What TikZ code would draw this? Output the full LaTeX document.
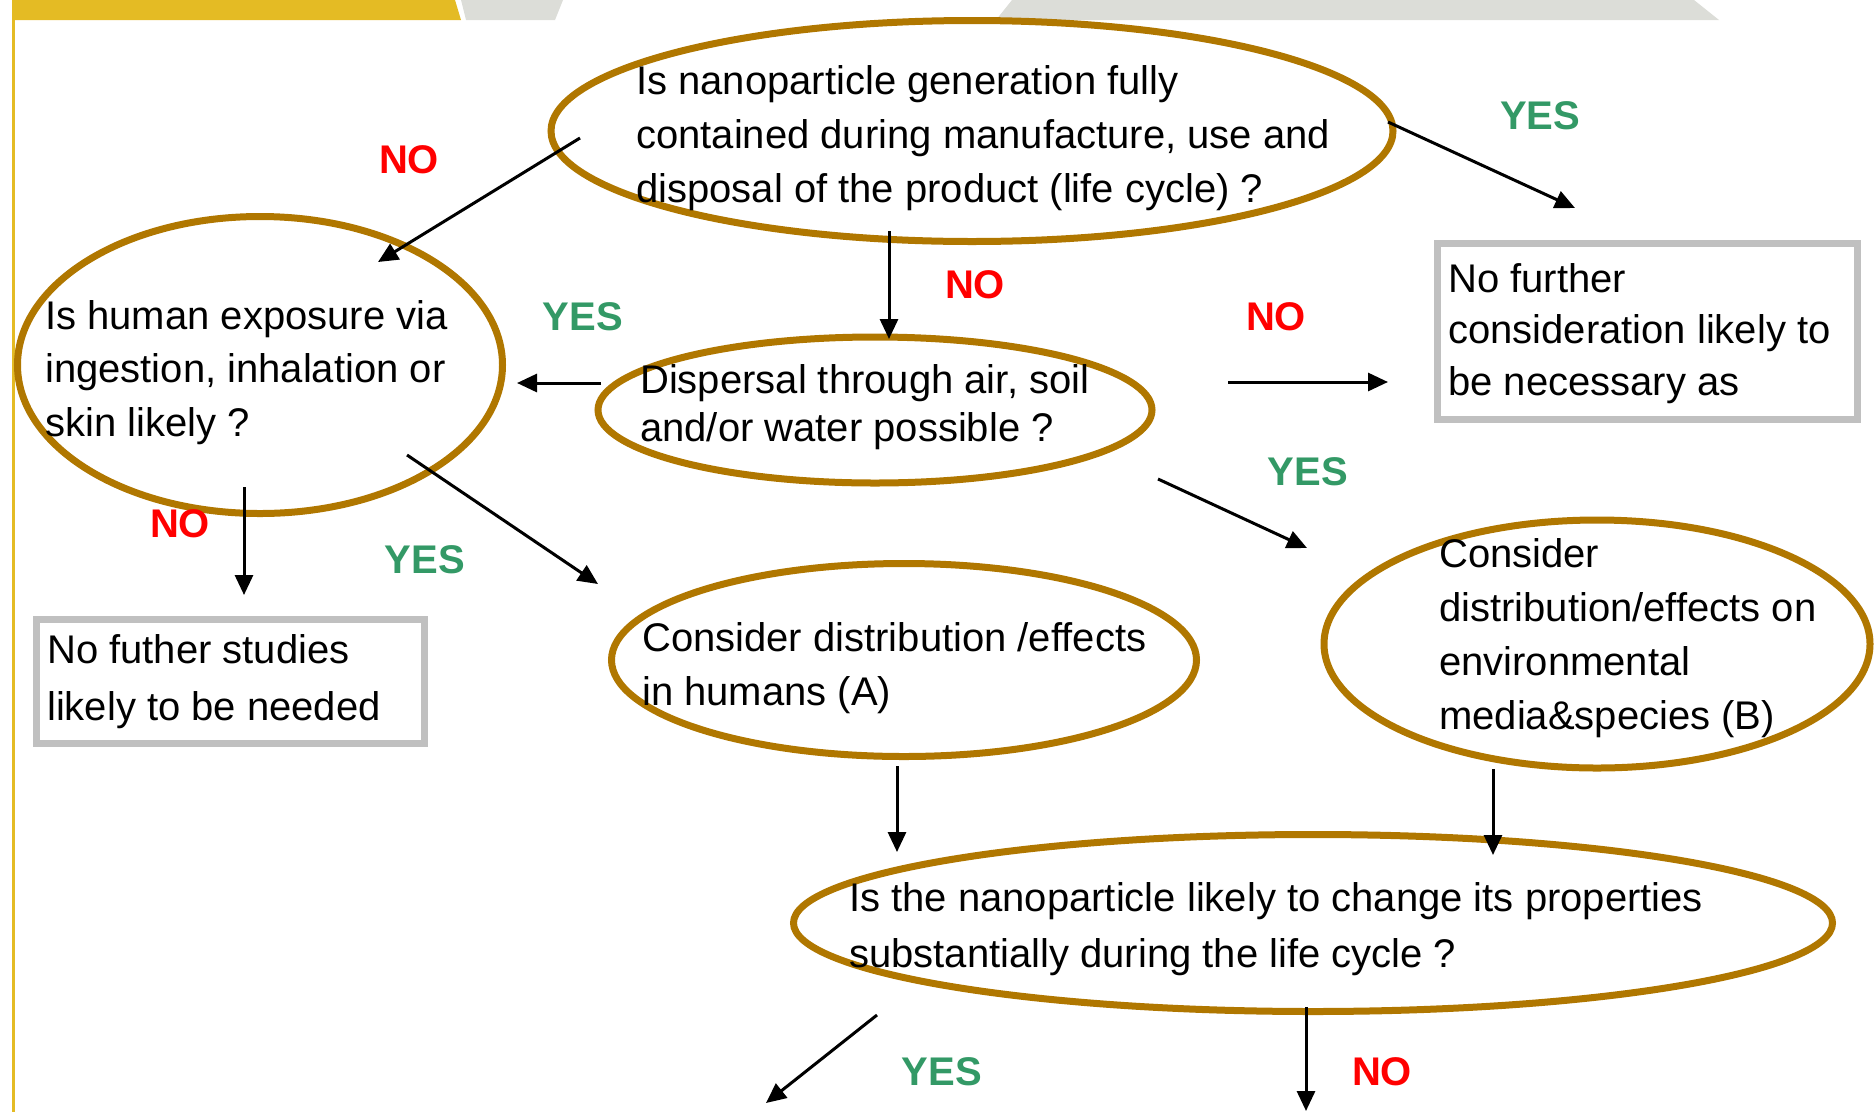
\documentclass[tikz,border=0pt]{standalone}
\usepackage{fontspec}
\setmainfont{Liberation Sans}
\usetikzlibrary{arrows.meta,shapes.geometric}
\definecolor{yellowbar}{HTML}{E4BB24}
\definecolor{greybar}{HTML}{DCDDD8}
\definecolor{ellcol}{HTML}{B07700}
\definecolor{boxcol}{HTML}{C0C0C0}
\definecolor{yescol}{HTML}{339966}
\definecolor{nocol}{HTML}{FF0000}
\tikzset{
  ell/.style={draw=ellcol, line width=7pt, ellipse, inner sep=0pt},
  greybox/.style={draw=boxcol, line width=7pt, rectangle, inner sep=0pt},
  txt/.style={inner sep=0pt, anchor=base west, align=left, font=\fontsize{40}{54}\selectfont},
  yeslbl/.style={text=yescol, inner sep=0pt, font=\fontsize{40}{40}\selectfont\bfseries},
  nolbl/.style={text=nocol, inner sep=0pt, font=\fontsize{40}{40}\selectfont\bfseries},
  arr/.style={line width=3pt, -{Triangle[length=20pt,width=18pt]}}
}
\begin{document}
\begin{tikzpicture}[x=1pt,y=-1pt]
\useasboundingbox (0,0) rectangle (1876,1112);
% frame decoration
\fill[yellowbar] (12,0) -- (455,0) -- (461,20) -- (12,20) -- cycle;
\fill[yellowbar] (12,20) rectangle (15,1112);
\fill[greybar] (461,0) -- (563,0) -- (555,20) -- (466,20) -- cycle;
\fill[greybar] (1012,0) -- (1694,0) -- (1719,20) -- (996,20) -- cycle;

% ellipses
\node[ell, minimum width=842pt, minimum height=221pt] (e1) at (972,131) {};
\node[ell, minimum width=485pt, minimum height=297pt] (e2) at (260,365) {};
\node[ell, minimum width=554pt, minimum height=146pt] (e3) at (875,410) {};
\node[ell, minimum width=585pt, minimum height=193pt] (e4) at (904,660) {};
\node[ell, minimum width=546pt, minimum height=248pt] (e5) at (1597,644) {};
\node[ell, minimum width=1039pt, minimum height=177pt] (e6) at (1313,923) {};
% boxes
\node[greybox, minimum width=420pt, minimum height=176pt] (b1) at (1647.5,331.5) {};
\node[greybox, minimum width=388pt, minimum height=124pt] (b2) at (230.5,681.5) {};

% texts (anchored at the baseline of the last line)
\node[txt] (t1) at (636,202) {Is nanoparticle generation fully\\contained during manufacture, use and\\disposal of the product (life cycle) ?};
\node[txt, font=\fontsize{40}{51.5}\selectfont] (tb1) at (1448,395) {No further\\consideration likely to\\be necessary as};
\node[txt, font=\fontsize{40}{53.5}\selectfont] (t2) at (45,436) {Is human exposure via\\ingestion, inhalation or\\skin likely ?};
\node[txt, font=\fontsize{40}{48}\selectfont] (t3) at (640,441) {Dispersal through air, soil\\and/or water possible ?};
\node[txt] (t4) at (642,705) {Consider distribution /effects\\in humans (A)};
\node[txt] (t5) at (1439,729) {Consider\\distribution/effects on\\environmental\\media\&species (B)};
\node[txt, font=\fontsize{40}{56}\selectfont] (t6) at (849,967) {Is the nanoparticle likely to change its properties\\substantially during the life cycle ?};
\node[txt, font=\fontsize{40}{57}\selectfont] (tb2) at (47,720) {No futher studies\\likely to be needed};

% connector end points
\coordinate (a1s) at (580,138);  \coordinate (a1e) at (378,262);
\coordinate (a2s) at (1388,122); \coordinate (a2e) at (1575,208);
\coordinate (a3s) at (889,231);  \coordinate (a3e) at (889,339);
\coordinate (a4s) at (601,383);  \coordinate (a4e) at (517,383);
\coordinate (a5s) at (1228,382); \coordinate (a5e) at (1388,382);
\coordinate (a6s) at (1158,479); \coordinate (a6e) at (1307,548);
\coordinate (a7s) at (244,487);  \coordinate (a7e) at (244,595);
\coordinate (a8s) at (407,455);  \coordinate (a8e) at (598,584);
\coordinate (a9s) at (897,766);  \coordinate (a9e) at (897,852);
\coordinate (a10s) at (1493,769); \coordinate (a10e) at (1493,855);
\coordinate (a11s) at (877,1015); \coordinate (a11e) at (766,1103);
\coordinate (a12s) at (1306,1007); \coordinate (a12e) at (1306,1111);

\draw[arr] (a1s) -- (a1e);
\draw[arr] (a2s) -- (a2e);
\draw[arr] (a3s) -- (a3e);
\draw[arr] (a4s) -- (a4e);
\draw[arr] (a5s) -- (a5e);
\draw[arr] (a6s) -- (a6e);
\draw[arr] (a7s) -- (a7e);
\draw[arr] (a8s) -- (a8e);
\draw[arr] (a9s) -- (a9e);
\draw[arr] (a10s) -- (a10e);
\draw[arr] (a11s) -- (a11e);
\draw[arr] (a12s) -- (a12e);

% labels
\node[nolbl] (l1) at (409,160) {NO};
\node[yeslbl] (l2) at (1540,116) {YES};
\node[nolbl] (l3) at (975,285) {NO};
\node[yeslbl] (l4) at (583,317) {YES};
\node[nolbl] (l5) at (1276,317) {NO};
\node[yeslbl] (l6) at (1308,472) {YES};
\node[nolbl] (l7) at (180,524) {NO};
\node[yeslbl] (l8) at (425,560) {YES};
\node[yeslbl] (l11) at (942,1072) {YES};
\node[nolbl] (l12) at (1382,1072) {NO};
\end{tikzpicture}
\end{document}
